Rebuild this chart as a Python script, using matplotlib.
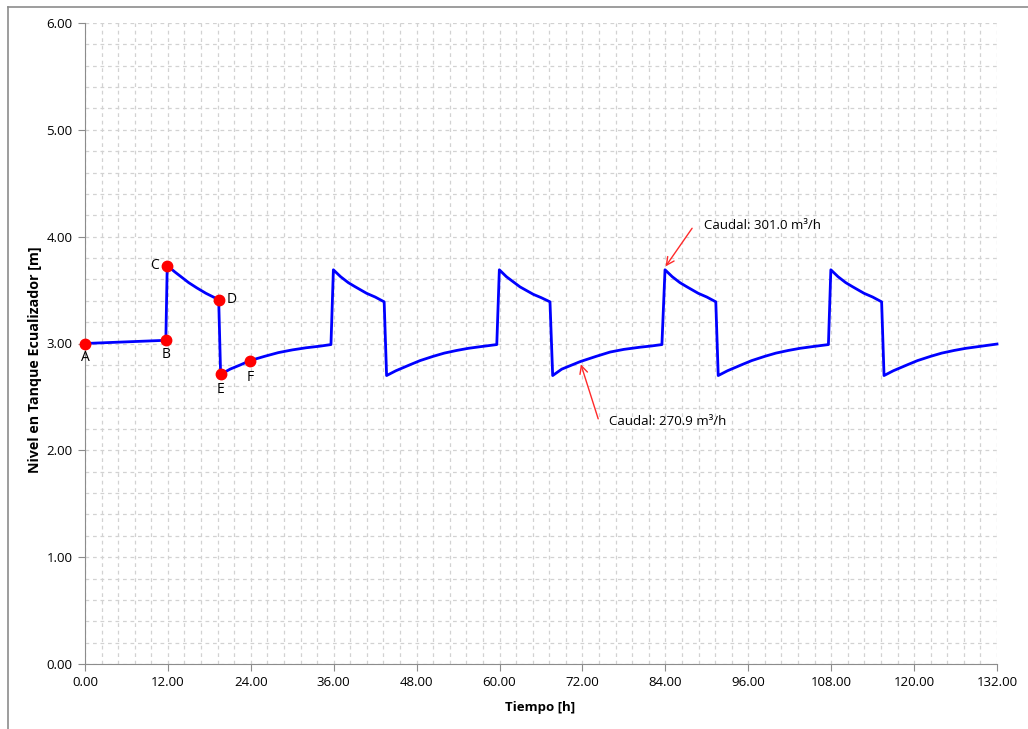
import matplotlib
matplotlib.use("Agg")
import matplotlib.pyplot as plt
from matplotlib.ticker import MultipleLocator, FormatStrFormatter
from matplotlib.lines import Line2D

plt.rcParams['font.family'] = ['Open Sans', 'DejaVu Sans']

# Nivel en tanque ecualizador vs tiempo
tiempo = [0.0, 11.7, 11.9, 13.0, 13.8, 15.0, 16.2, 17.5, 19.35, 19.63, 21.0, 22.5, 23.88,
          26.0, 28.0, 30.0, 32.0, 34.0, 35.6,
          35.95, 37.0, 38.1, 39.0, 40.75, 42.0, 43.3, 43.65, 45.0, 47.0, 48.5, 50.4, 52.0,
          53.8, 55.5, 57.2, 59.6,
          59.97, 61.0, 62.96, 64.89, 66.0, 67.3, 67.69, 69.0, 71.65, 74.0, 76.0, 78.0,
          80.3, 82.0, 83.5,
          83.95, 85.0, 86.1, 87.0, 88.75, 90.0, 91.3, 91.65, 93.0, 95.0, 96.5, 98.4, 100.0,
          101.8, 103.5, 105.2, 107.6,
          107.95, 109.0, 110.1, 111.0, 112.75, 114.0, 115.3, 115.65, 117.0, 119.0, 120.5,
          122.4, 124.0, 125.8, 127.5, 129.2, 132.0]
nivel = [3.00, 3.03, 3.73, 3.67, 3.63, 3.57, 3.52, 3.47, 3.41, 2.71, 2.76, 2.80, 2.84,
         2.88, 2.915, 2.94, 2.96, 2.975, 2.99,
         3.69, 3.625, 3.57, 3.535, 3.47, 3.435, 3.39, 2.70, 2.745, 2.80, 2.84, 2.88, 2.91,
         2.935, 2.955, 2.97, 2.99,
         3.69, 3.625, 3.53, 3.46, 3.43, 3.39, 2.70, 2.76, 2.83, 2.88, 2.92, 2.945,
         2.965, 2.977, 2.99,
         3.69, 3.625, 3.57, 3.535, 3.47, 3.435, 3.39, 2.70, 2.745, 2.80, 2.84, 2.88, 2.91,
         2.935, 2.955, 2.97, 2.99,
         3.69, 3.625, 3.57, 3.535, 3.47, 3.435, 3.39, 2.70, 2.745, 2.80, 2.84, 2.88, 2.91,
         2.935, 2.955, 2.97, 2.995]

# puntos marcados
puntos_t = [0.0, 11.7, 11.9, 19.35, 19.63, 23.88]
puntos_n = [3.00, 3.03, 3.73, 3.41, 2.71, 2.84]
puntos_lbl = ['A', 'B', 'C', 'D', 'E', 'F']
puntos_off = [(0, -10), (0, -10), (-9, 0), (9, 0), (0, -11), (0, -12)]

fig = plt.figure(figsize=(10.28, 7.29), dpi=100)
ax = fig.add_axes([85 / 1028, 1 - 664 / 729, 912 / 1028, 641 / 729])

# marco del grafico (solo se ven izquierda y arriba)
bx, by = 8 / 1028, 1 - 7 / 729
fig.add_artist(Line2D([bx, bx], [0, by], transform=fig.transFigure, color='#8c8c8c', lw=1.2))
fig.add_artist(Line2D([bx, 1], [by, by], transform=fig.transFigure, color='#8c8c8c', lw=1.2))

ax.plot(tiempo, nivel, color='#0000ff', lw=2.0, zorder=3, clip_on=False)
ax.plot(puntos_t, puntos_n, 'o', color='#ff0000', ms=7.5, zorder=4, clip_on=False)
for t, n, lbl, off in zip(puntos_t, puntos_n, puntos_lbl, puntos_off):
    ax.annotate(lbl, (t, n), xytext=off, textcoords='offset points',
                ha='center', va='center', fontsize=10)

# flechas de caudal
ax.annotate('', xy=(83.8, 3.70), xytext=(88.1, 4.10),
            arrowprops=dict(arrowstyle='->', color='#ff2a2a', lw=1.0, mutation_scale=14))
ax.text(89.6, 4.10, 'Caudal: 301.0 m³/h', fontsize=9.5, va='center', ha='left')
ax.annotate('', xy=(71.65, 2.83), xytext=(74.4, 2.27),
            arrowprops=dict(arrowstyle='->', color='#ff2a2a', lw=1.0, mutation_scale=14))
ax.text(75.9, 2.27, 'Caudal: 270.9 m³/h', fontsize=9.5, va='center', ha='left')

ax.set_xlim(0, 132)
ax.set_ylim(0, 6)
ax.xaxis.set_major_locator(MultipleLocator(12))
ax.xaxis.set_minor_locator(MultipleLocator(2.4))
ax.yaxis.set_major_locator(MultipleLocator(1))
ax.yaxis.set_minor_locator(MultipleLocator(0.2))
ax.xaxis.set_major_formatter(FormatStrFormatter('%.2f'))
ax.yaxis.set_major_formatter(FormatStrFormatter('%.2f'))

ax.grid(which='both', color='#d2d2d2', ls=(0, (3, 3)), lw=0.9, zorder=0)
ax.set_axisbelow(True)
ax.tick_params(which='major', direction='out', length=5, color='#8c8c8c', labelsize=9.5, pad=4)
ax.tick_params(which='minor', length=0)
for s in ['top', 'right']:
    ax.spines[s].set_visible(False)
for s in ['left', 'bottom']:
    ax.spines[s].set_color('#8c8c8c')

ax.set_xlabel('Tiempo [h]', fontsize=9.5, fontweight='bold')
ax.xaxis.set_label_coords((540 - 85) / 912, -(708 - 664) / 641)
ax.set_ylabel('Nivel en Tanque Ecualizador [m]', fontsize=10.3, fontweight='bold')
ax.yaxis.set_label_coords(-(85 - 35) / 912, (664 - 360) / 641)
ax.xaxis.label.set_va('center')
ax.yaxis.label.set_va('center')

fig.savefig('out.png', dpi=100)
